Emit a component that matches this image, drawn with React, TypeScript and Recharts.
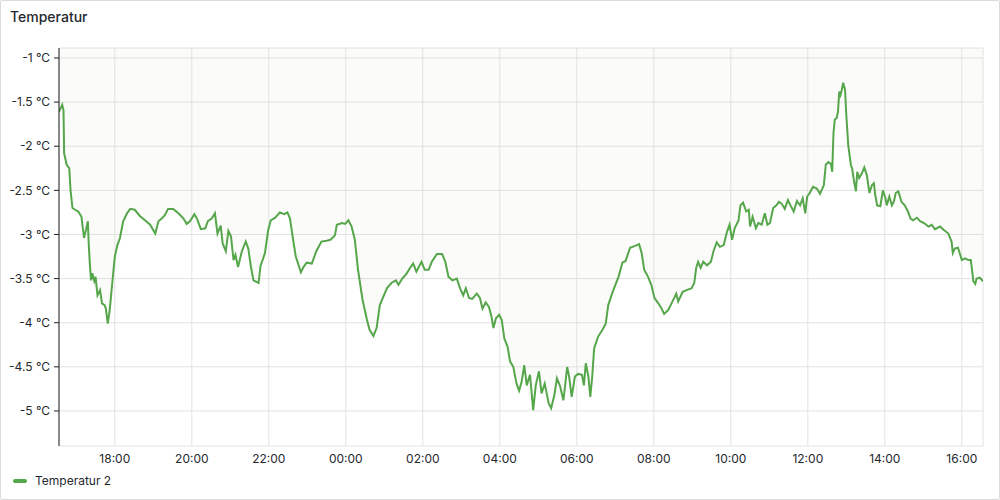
import React from "react";
import {
  ComposedChart,
  Line,
  Area,
  XAxis,
  YAxis,
  CartesianGrid,
} from "recharts";

// panel title + series name
const title = "Temperatur";
const seriesName = "Temperatur 2";

// window starts 16:33, one day long (minutes since start)
const startMinute = 16 * 60 + 33;
const xTicks = [87, 207, 327, 447, 567, 687, 807, 927, 1047, 1167, 1287, 1407];
const yTicks = [-5, -4.5, -4, -3.5, -3, -2.5, -2, -1.5, -1];
const yDomain: [number, number] = [-5.397, -0.887];

// [minutes since start, °C]
const readings: [number, number][] = [
  [0, -1.61], [5, -1.53], [7, -1.59], [8, -2.08], [12, -2.21], [16, -2.25], [18, -2.5], [21, -2.7],
  [25, -2.72], [30, -2.74], [35, -2.8], [39, -3.04], [42, -2.95], [45, -2.85], [46, -3.06], [48, -3.33],
  [50, -3.52], [52, -3.44], [55, -3.53], [57, -3.48], [60, -3.69], [64, -3.63], [67, -3.78], [71, -3.8],
  [73, -3.84], [76, -4.01], [79, -3.86], [83, -3.55], [87, -3.25], [91, -3.12], [95, -3.04], [100, -2.85],
  [106, -2.76], [111, -2.71], [118, -2.72], [126, -2.79], [134, -2.84], [142, -2.89], [150, -2.99],
  [155, -2.85], [160, -2.82], [165, -2.78], [170, -2.71], [178, -2.71], [186, -2.76], [194, -2.82],
  [199, -2.88], [204, -2.85], [211, -2.77], [215, -2.82], [221, -2.94], [228, -2.93], [232, -2.85],
  [238, -2.82], [243, -2.76], [247, -2.99], [252, -2.9], [255, -3.1], [260, -3.19], [264, -2.96],
  [268, -3.02], [272, -3.29], [275, -3.23], [279, -3.37], [285, -3.19], [291, -3.08], [295, -3.16],
  [299, -3.36], [303, -3.52], [311, -3.55], [314, -3.36], [321, -3.21], [326, -2.95], [330, -2.84],
  [337, -2.81], [344, -2.75], [351, -2.77], [356, -2.75], [360, -2.82], [364, -3.02], [369, -3.25],
  [377, -3.43], [381, -3.37], [386, -3.32], [394, -3.33], [401, -3.19], [409, -3.08], [417, -3.07],
  [423, -3.06], [430, -3.01], [433, -2.89], [441, -2.87], [446, -2.88], [451, -2.84], [456, -2.91],
  [461, -3.06], [466, -3.4], [473, -3.74], [480, -3.97], [484, -4.08], [490, -4.15], [495, -4.06],
  [500, -3.8], [504, -3.73], [511, -3.61], [518, -3.55], [525, -3.52], [529, -3.57], [535, -3.5],
  [542, -3.44], [547, -3.38], [552, -3.33], [557, -3.42], [565, -3.31], [570, -3.4], [576, -3.4],
  [581, -3.31], [589, -3.22], [597, -3.22], [602, -3.31], [607, -3.48], [613, -3.52], [620, -3.5],
  [625, -3.61], [630, -3.69], [634, -3.61], [639, -3.72], [644, -3.73], [651, -3.67], [656, -3.72],
  [660, -3.84], [665, -3.77], [670, -3.82], [674, -3.93], [677, -4.06], [681, -3.95], [686, -3.91],
  [690, -3.97], [694, -4.18], [699, -4.27], [703, -4.44], [708, -4.5], [713, -4.69], [717, -4.77],
  [721, -4.67], [725, -4.48], [729, -4.71], [734, -4.59], [739, -4.99], [743, -4.71], [748, -4.55],
  [752, -4.8], [757, -4.69], [763, -4.91], [767, -4.97], [772, -4.82], [776, -4.63], [781, -4.72],
  [786, -4.88], [788, -4.76], [792, -4.5], [795, -4.61], [799, -4.84], [804, -4.61], [809, -4.58],
  [815, -4.59], [818, -4.71], [821, -4.46], [825, -4.61], [828, -4.84], [831, -4.61], [834, -4.29],
  [840, -4.16], [847, -4.08], [852, -4.01], [856, -3.8], [861, -3.69], [866, -3.59], [872, -3.48],
  [878, -3.32], [883, -3.3], [890, -3.15], [898, -3.13], [904, -3.11], [908, -3.21], [912, -3.4],
  [918, -3.48], [923, -3.57], [928, -3.72], [934, -3.78], [939, -3.84], [943, -3.9], [949, -3.86],
  [952, -3.82], [962, -3.67], [965, -3.76], [972, -3.65], [978, -3.63], [986, -3.61], [990, -3.55],
  [993, -3.38], [996, -3.31], [1000, -3.38], [1004, -3.31], [1010, -3.35], [1016, -3.31], [1020, -3.19],
  [1025, -3.09], [1030, -3.14], [1036, -3.12], [1041, -2.97], [1045, -2.89], [1049, -3.06], [1053, -2.93],
  [1059, -2.84], [1062, -2.67], [1066, -2.64], [1071, -2.74], [1075, -2.72], [1077, -2.91], [1081, -2.8],
  [1086, -2.93], [1090, -2.87], [1095, -2.89], [1100, -2.76], [1104, -2.89], [1108, -2.87], [1113, -2.7],
  [1118, -2.67], [1122, -2.63], [1126, -2.65], [1131, -2.71], [1136, -2.61], [1140, -2.67], [1145, -2.74],
  [1150, -2.62], [1155, -2.67], [1159, -2.59], [1163, -2.76], [1166, -2.57], [1170, -2.53], [1175, -2.46],
  [1181, -2.48], [1186, -2.54], [1192, -2.44], [1195, -2.21], [1199, -2.18], [1203, -2.2], [1205, -2.29],
  [1207, -1.85], [1209, -1.7], [1212, -1.68], [1214, -1.61], [1216, -1.38], [1218, -1.42], [1220, -1.36],
  [1222, -1.28], [1225, -1.36], [1227, -1.65], [1230, -1.99], [1234, -2.21], [1236, -2.25], [1239, -2.4],
  [1242, -2.51], [1244, -2.29], [1247, -2.36], [1251, -2.31], [1255, -2.24], [1259, -2.33], [1263, -2.53],
  [1267, -2.44], [1270, -2.42], [1272, -2.55], [1275, -2.67], [1280, -2.68], [1284, -2.5], [1288, -2.59],
  [1290, -2.67], [1294, -2.57], [1298, -2.67], [1301, -2.63], [1304, -2.53], [1308, -2.51], [1313, -2.63],
  [1318, -2.67], [1323, -2.74], [1327, -2.82], [1331, -2.84], [1337, -2.81], [1342, -2.85], [1348, -2.87],
  [1355, -2.91], [1360, -2.89], [1365, -2.94], [1373, -2.91], [1379, -2.95], [1386, -2.99], [1391, -3.08],
  [1393, -3.21], [1396, -3.16], [1401, -3.15], [1407, -3.29], [1412, -3.27], [1417, -3.29], [1421, -3.29],
  [1425, -3.53], [1428, -3.56], [1430, -3.5], [1435, -3.49], [1440, -3.53],
];

const data = readings.map(([t, v]) => ({ t, v }));

const fmtTime = (m: number) => {
  const total = (startMinute + m) % 1440;
  const h = Math.floor(total / 60);
  const mm = total % 60;
  return `${String(h).padStart(2, "0")}:${String(mm).padStart(2, "0")}`;
};

const font = "Inter, 'Open Sans', sans-serif";
const green = "#56a64b";
const textColor = "#24292e";

export default function App() {
  return (
    <div
      style={{
        position: "relative",
        width: 1000,
        height: 500,
        background: "#fff",
        boxShadow: "inset 0 0 0 1px #dcdcdc",
        borderRadius: 2,
        fontFamily: font,
        color: textColor,
      }}
    >
      <style>{"body{margin:0}"}</style>
      <div style={{ position: "absolute", left: 10, top: 8, fontSize: 14, fontWeight: 500 }}>
        {title}
      </div>

      <div style={{ position: "absolute", left: 0, top: 0 }}>
        <ComposedChart
          width={1000}
          height={480}
          data={data}
          margin={{ top: 48, right: 17, bottom: 4, left: 0 }}
        >
          <CartesianGrid stroke="#e2e2e2" />
          {/* light shading from the line up to the top of the plot */}
          <Area
            type="linear"
            dataKey="v"
            baseValue={yDomain[1]}
            stroke="none"
            fill="#d8d8c8"
            fillOpacity={0.1}
            isAnimationActive={false}
          />
          <XAxis
            dataKey="t"
            type="number"
            domain={[0, 1440]}
            ticks={xTicks}
            tickFormatter={fmtTime}
            axisLine={false}
            tickLine={false}
            height={30}
            tick={{ fontSize: 12, fill: textColor, fontFamily: font }}
            allowDataOverflow
          />
          <YAxis
            type="number"
            domain={yDomain}
            ticks={yTicks}
            tickFormatter={(v: number) => `${v} °C`}
            width={59}
            axisLine={{ stroke: "#202020" }}
            tickLine={{ stroke: "#202020" }}
            tickSize={5}
            tickMargin={4}
            tick={{ fontSize: 12, fill: textColor, fontFamily: font }}
            allowDataOverflow
          />
          <Line
            type="linear"
            dataKey="v"
            stroke={green}
            strokeWidth={2}
            dot={false}
            isAnimationActive={false}
          />
        </ComposedChart>
      </div>

      <div
        style={{
          position: "absolute",
          left: 13,
          top: 473,
          display: "flex",
          alignItems: "center",
          fontSize: 12,
        }}
      >
        <span
          style={{
            display: "inline-block",
            width: 14,
            height: 4,
            borderRadius: 2,
            background: green,
            marginRight: 8,
          }}
        />
        {seriesName}
      </div>
    </div>
  );
}
